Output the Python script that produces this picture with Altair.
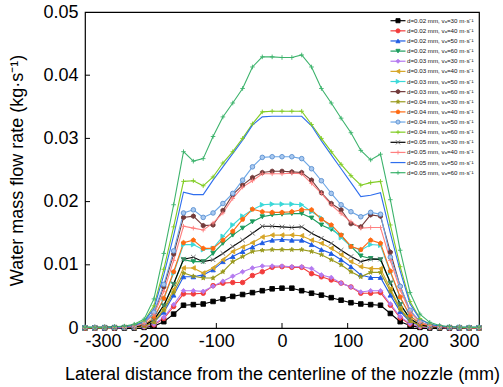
import altair as alt
import pandas as pd

xs = list(range(-300, 301, 15))

series_names = [
    "d=0.02 mm, vₐ=30 m·s⁻¹", "d=0.02 mm, vₐ=40 m·s⁻¹", "d=0.02 mm, vₐ=50 m·s⁻¹", "d=0.02 mm, vₐ=60 m·s⁻¹",
    "d=0.03 mm, vₐ=30 m·s⁻¹", "d=0.03 mm, vₐ=40 m·s⁻¹", "d=0.03 mm, vₐ=50 m·s⁻¹", "d=0.03 mm, vₐ=60 m·s⁻¹",
    "d=0.04 mm, vₐ=30 m·s⁻¹", "d=0.04 mm, vₐ=40 m·s⁻¹", "d=0.04 mm, vₐ=50 m·s⁻¹", "d=0.04 mm, vₐ=60 m·s⁻¹",
    "d=0.05 mm, vₐ=30 m·s⁻¹", "d=0.05 mm, vₐ=40 m·s⁻¹", "d=0.05 mm, vₐ=50 m·s⁻¹", "d=0.05 mm, vₐ=60 m·s⁻¹",
]

s01 = [0.0000, 0.0000, 0.0000, 0.0000, 0.0000, 0.0000, 0.0001, 0.0003, 0.0010, 0.0022,
       0.0036, 0.0037, 0.0038, 0.0042, 0.0046, 0.0050, 0.0053, 0.0056, 0.0059, 0.0062,
       0.0063,
       0.0063, 0.0059, 0.0055, 0.0052, 0.0048, 0.0044, 0.0040, 0.0038, 0.0037, 0.0036,
       0.0023, 0.0010, 0.0004, 0.0001, 0.0000, 0.0000, 0.0000, 0.0000, 0.0000, 0.0000]
s02 = [0.0000, 0.0000, 0.0000, 0.0000, 0.0001, 0.0001, 0.0002, 0.0005, 0.0015, 0.0034,
       0.0054, 0.0054, 0.0055, 0.0067, 0.0071, 0.0072, 0.0072, 0.0083, 0.0089, 0.0096,
       0.0097,
       0.0096, 0.0096, 0.0086, 0.0081, 0.0076, 0.0071, 0.0065, 0.0055, 0.0055, 0.0056,
       0.0036, 0.0016, 0.0006, 0.0002, 0.0001, 0.0001, 0.0000, 0.0000, 0.0000, 0.0000]
s03 = [0.0000, 0.0000, 0.0000, 0.0001, 0.0001, 0.0001, 0.0003, 0.0009, 0.0025, 0.0052,
       0.0081, 0.0081, 0.0084, 0.0092, 0.0105, 0.0113, 0.0121, 0.0128, 0.0135, 0.0139,
       0.0140,
       0.0139, 0.0139, 0.0132, 0.0124, 0.0118, 0.0108, 0.0097, 0.0084, 0.0080, 0.0080,
       0.0052, 0.0026, 0.0010, 0.0004, 0.0002, 0.0001, 0.0001, 0.0000, 0.0000, 0.0000]
s04 = [0.0000, 0.0000, 0.0001, 0.0001, 0.0001, 0.0002, 0.0004, 0.0012, 0.0035, 0.0069,
       0.0108, 0.0105, 0.0105, 0.0118, 0.0134, 0.0147, 0.0158, 0.0168, 0.0176, 0.0179,
       0.0180,
       0.0181, 0.0181, 0.0174, 0.0163, 0.0156, 0.0146, 0.0129, 0.0114, 0.0110, 0.0108,
       0.0071, 0.0037, 0.0014, 0.0005, 0.0002, 0.0001, 0.0001, 0.0001, 0.0000, 0.0000]
s05 = [0.0000, 0.0000, 0.0000, 0.0000, 0.0001, 0.0001, 0.0002, 0.0006, 0.0017, 0.0037,
       0.0059, 0.0059, 0.0058, 0.0066, 0.0074, 0.0082, 0.0089, 0.0095, 0.0098, 0.0098,
       0.0098,
       0.0097, 0.0097, 0.0094, 0.0084, 0.0080, 0.0071, 0.0065, 0.0057, 0.0059, 0.0059,
       0.0038, 0.0018, 0.0007, 0.0002, 0.0001, 0.0001, 0.0000, 0.0000, 0.0000, 0.0000]
s06 = [0.0000, 0.0000, 0.0000, 0.0001, 0.0001, 0.0001, 0.0003, 0.0010, 0.0030, 0.0061,
       0.0095, 0.0095, 0.0087, 0.0095, 0.0108, 0.0121, 0.0128, 0.0135, 0.0144, 0.0147,
       0.0147,
       0.0147, 0.0146, 0.0139, 0.0134, 0.0126, 0.0116, 0.0105, 0.0097, 0.0094, 0.0094,
       0.0062, 0.0031, 0.0012, 0.0004, 0.0002, 0.0001, 0.0001, 0.0000, 0.0000, 0.0000]
s07 = [0.0000, 0.0000, 0.0001, 0.0001, 0.0001, 0.0002, 0.0005, 0.0016, 0.0046, 0.0087,
       0.0132, 0.0132, 0.0124, 0.0126, 0.0145, 0.0163, 0.0177, 0.0187, 0.0195, 0.0196,
       0.0196,
       0.0196, 0.0195, 0.0184, 0.0174, 0.0159, 0.0143, 0.0129, 0.0123, 0.0132, 0.0131,
       0.0088, 0.0048, 0.0019, 0.0007, 0.0003, 0.0001, 0.0001, 0.0001, 0.0000, 0.0000]
s08 = [0.0000, 0.0001, 0.0001, 0.0001, 0.0001, 0.0003, 0.0008, 0.0024, 0.0065, 0.0117,
       0.0175, 0.0177, 0.0162, 0.0163, 0.0186, 0.0211, 0.0226, 0.0238, 0.0246, 0.0248,
       0.0248,
       0.0247, 0.0246, 0.0234, 0.0214, 0.0197, 0.0187, 0.0165, 0.0160, 0.0179, 0.0177,
       0.0120, 0.0066, 0.0027, 0.0010, 0.0004, 0.0002, 0.0001, 0.0001, 0.0000, 0.0000]
s09 = [0.0000, 0.0000, 0.0000, 0.0001, 0.0001, 0.0001, 0.0003, 0.0009, 0.0028, 0.0056,
       0.0087, 0.0082, 0.0079, 0.0079, 0.0089, 0.0105, 0.0113, 0.0121, 0.0123, 0.0124,
       0.0124,
       0.0124, 0.0124, 0.0121, 0.0116, 0.0108, 0.0100, 0.0089, 0.0081, 0.0088, 0.0088,
       0.0058, 0.0029, 0.0011, 0.0004, 0.0002, 0.0001, 0.0001, 0.0000, 0.0000, 0.0000]
s10 = [0.0000, 0.0000, 0.0001, 0.0001, 0.0001, 0.0002, 0.0005, 0.0016, 0.0047, 0.0089,
       0.0135, 0.0139, 0.0126, 0.0126, 0.0139, 0.0153, 0.0172, 0.0188, 0.0184, 0.0183,
       0.0183,
       0.0184, 0.0187, 0.0187, 0.0172, 0.0163, 0.0147, 0.0129, 0.0124, 0.0139, 0.0134,
       0.0090, 0.0049, 0.0019, 0.0007, 0.0003, 0.0001, 0.0001, 0.0001, 0.0000, 0.0000]
s11 = [0.0001, 0.0001, 0.0001, 0.0001, 0.0001, 0.0003, 0.0008, 0.0025, 0.0069, 0.0122,
       0.0182, 0.0187, 0.0175, 0.0182, 0.0197, 0.0213, 0.0234, 0.0255, 0.0270, 0.0271,
       0.0271,
       0.0271, 0.0268, 0.0252, 0.0233, 0.0213, 0.0195, 0.0184, 0.0176, 0.0183, 0.0180,
       0.0112, 0.0066, 0.0028, 0.0010, 0.0004, 0.0002, 0.0001, 0.0001, 0.0001, 0.0001]
s12 = [0.0001, 0.0001, 0.0001, 0.0001, 0.0002, 0.0005, 0.0011, 0.0035, 0.0093, 0.0160,
       0.0232, 0.0233, 0.0225, 0.0239, 0.0261, 0.0279, 0.0300, 0.0323, 0.0342, 0.0343,
       0.0343,
       0.0343, 0.0343, 0.0322, 0.0300, 0.0279, 0.0259, 0.0241, 0.0226, 0.0230, 0.0232,
       0.0163, 0.0097, 0.0042, 0.0015, 0.0006, 0.0003, 0.0002, 0.0001, 0.0001, 0.0001]
s13 = [0.0000, 0.0000, 0.0001, 0.0001, 0.0001, 0.0002, 0.0004, 0.0013, 0.0036, 0.0070,
       0.0109, 0.0112, 0.0105, 0.0108, 0.0118, 0.0129, 0.0139, 0.0150, 0.0161, 0.0161,
       0.0160,
       0.0159, 0.0160, 0.0150, 0.0142, 0.0134, 0.0123, 0.0113, 0.0105, 0.0109, 0.0109,
       0.0072, 0.0038, 0.0015, 0.0005, 0.0002, 0.0001, 0.0001, 0.0000, 0.0000, 0.0000]
s14 = [0.0000, 0.0001, 0.0001, 0.0001, 0.0001, 0.0003, 0.0007, 0.0021, 0.0058, 0.0107,
       0.0161, 0.0158, 0.0155, 0.0166, 0.0182, 0.0205, 0.0223, 0.0233, 0.0244, 0.0244,
       0.0244,
       0.0245, 0.0244, 0.0229, 0.0213, 0.0195, 0.0181, 0.0168, 0.0158, 0.0159, 0.0159,
       0.0107, 0.0060, 0.0025, 0.0009, 0.0004, 0.0002, 0.0001, 0.0001, 0.0000, 0.0000]
s15 = [0.0001, 0.0001, 0.0001, 0.0001, 0.0002, 0.0004, 0.0010, 0.0031, 0.0084, 0.0146,
       0.0215, 0.0211, 0.0211, 0.0234, 0.0255, 0.0276, 0.0297, 0.0321, 0.0334, 0.0335,
       0.0335,
       0.0335, 0.0335, 0.0320, 0.0296, 0.0274, 0.0252, 0.0230, 0.0208, 0.0210, 0.0214,
       0.0150, 0.0090, 0.0038, 0.0014, 0.0006, 0.0003, 0.0002, 0.0001, 0.0001, 0.0001]
s16 = [0.0001, 0.0001, 0.0001, 0.0002, 0.0003, 0.0006, 0.0014, 0.0046, 0.0118, 0.0195,
       0.0279, 0.0264, 0.0268, 0.0303, 0.0334, 0.0356, 0.0379, 0.0413, 0.0429, 0.0429,
       0.0428,
       0.0428, 0.0432, 0.0413, 0.0379, 0.0356, 0.0332, 0.0309, 0.0281, 0.0266, 0.0275,
       0.0203, 0.0123, 0.0056, 0.0022, 0.0009, 0.0004, 0.0002, 0.0001, 0.0001, 0.0001]

all_values = [s01, s02, s03, s04, s05, s06, s07, s08, s09, s10, s11, s12, s13, s14, s15, s16]

x_ticks = [-300, -200, -100, 0, 100, 200, 300]
y_ticks = [0, 0.01, 0.02, 0.03, 0.04, 0.05]
inner_x_ticks = [-200, -100, 0, 100, 200]
inner_y_ticks = [0.01, 0.02, 0.03, 0.04]

# styles
line_colors = ["#000000", "#f23c3c", "#1f5ce4", "#1c9c5e", "#b47af0", "#d6a526", "#3ad8d8", "#733b3b",
               "#9a9a1e", "#ff6a12", "#6ca6e6", "#80cc22", "#000000", "#ff8080", "#2f6eee", "#3cb36c"]
fill_colors = ["#000000", "#f23c3c", "#1f5ce4", "#1c9c5e", "#b47af0", "#d6a526", "#3ad8d8", "#733b3b",
               "#9a9a1e", "#ff6a12", "#a9c9f0", "#80cc22", "#000000", "#ff8080", "#2f6eee", "#3cb36c"]
stroke_colors = ["#000000", "#f23c3c", "#1f5ce4", "#1c9c5e", "#b47af0", "#d6a526", "#3ad8d8", "#733b3b",
                 "#9a9a1e", "#ff6a12", "#5a90d0", "#80cc22", "#666666", "#ff8080", "#2f6eee", "#3cb36c"]
hexagon = "M0,-1L0.866,-0.5L0.866,0.5L0,1L-0.866,0.5L-0.866,-0.5Z"
pentagon = "M0,-1L0.951,-0.309L0.588,0.809L-0.588,0.809L-0.951,-0.309Z"
star = ("M0,-1L0.2245,-0.309L0.951,-0.309L0.363,0.118L0.588,0.809L0,0.382"
        "L-0.588,0.809L-0.363,0.118L-0.951,-0.309L-0.2245,-0.309Z")
plus = "M-1,0H1M0,-1V1"
xmark = "M-1,-1L1,1M-1,1L1,-1"
nothing = "M0,0"
shapes = ["square", "circle", "triangle-up", "triangle-down", "diamond", "triangle-left", "triangle-right",
          hexagon, star, pentagon, "circle", plus, xmark, plus, nothing, plus]

rows = []
for name, vals in zip(series_names, all_values):
    assert len(vals) == len(xs), name
    for xv, yv in zip(xs, vals):
        rows.append({"series": name, "x": xv, "y": yv})
df = pd.DataFrame(rows)

FONT = "Liberation Sans"
xscale = alt.Scale(domain=[-300, 300], nice=False, zero=False)
yscale = alt.Scale(domain=[0, 0.05], nice=False, zero=False)
color_scale = alt.Scale(domain=series_names, range=line_colors)
fill_scale = alt.Scale(domain=series_names, range=fill_colors)
stroke_scale = alt.Scale(domain=series_names, range=stroke_colors)
shape_scale = alt.Scale(domain=series_names, range=shapes)

base = alt.Chart(df)
lines = base.mark_line(strokeWidth=1.1).encode(
    x=alt.X("x:Q", scale=xscale, axis=alt.Axis(
        values=x_ticks, title="Lateral distance from the centerline of the nozzle (mm)",
        labelExpr="'' + datum.value", labelPadding=4, titleX=197, titleY=46,
        titleAlign="center", titleBaseline="middle")),
    y=alt.Y("y:Q", scale=yscale, axis=alt.Axis(
        values=y_ticks, format=".2~f", title="Water mass flow rate (kg·s⁻¹)",
        labelPadding=7, titleX=-68, titleY=158, titleAngle=270,
        titleAlign="center", titleBaseline="middle")),
    color=alt.Color("series:N", scale=color_scale, legend=None),
    detail="series:N",
)
points = base.mark_point(filled=False, strokeWidth=0.9, opacity=1, fillOpacity=1).encode(
    x=alt.X("x:Q", scale=xscale),
    y=alt.Y("y:Q", scale=yscale),
    fill=alt.Fill("series:N", scale=fill_scale, legend=None),
    stroke=alt.Stroke("series:N", scale=stroke_scale, legend=None),
    shape=alt.Shape("series:N", scale=shape_scale, legend=None),
    size=alt.value(21),
)

xt = alt.Chart(pd.DataFrame({"t": inner_x_ticks})).mark_rule(color="black", strokeWidth=1).encode(
    x=alt.X("t:Q", scale=xscale), y=alt.value(311), y2=alt.value(316))
yt = alt.Chart(pd.DataFrame({"t": inner_y_ticks})).mark_rule(color="black", strokeWidth=1).encode(
    y=alt.Y("t:Q", scale=yscale), x=alt.value(0), x2=alt.value(5))

main = alt.layer(lines, points, xt, yt)

leg_df = pd.DataFrame({"series": series_names})
leg_y = alt.Y("series:N", sort=series_names,
              scale=alt.Scale(type="point", domain=series_names, range=[8.7, 160.7], padding=0),
              axis=None)
leg_base = alt.Chart(leg_df)
leg_lines = leg_base.mark_rule(strokeWidth=1.2).encode(
    y=leg_y, x=alt.value(305.5), x2=alt.value(320.5),
    color=alt.Color("series:N", scale=color_scale, legend=None))
leg_points = leg_base.mark_point(filled=False, strokeWidth=0.9, opacity=1, fillOpacity=1).encode(
    y=leg_y, x=alt.value(313),
    fill=alt.Fill("series:N", scale=fill_scale, legend=None),
    stroke=alt.Stroke("series:N", scale=stroke_scale, legend=None),
    shape=alt.Shape("series:N", scale=shape_scale, legend=None),
    size=alt.value(17))
leg_text = leg_base.mark_text(align="left", baseline="middle", fontSize=6.2, font=FONT, color="#111111").encode(
    y=leg_y, x=alt.value(322), text="series:N")
legend = alt.layer(leg_lines, leg_points, leg_text)

chart = alt.layer(main, legend).resolve_scale(y="independent").properties(
    width=394, height=316,
    background="white",
    autosize=alt.AutoSizeParams(type="none"),
    padding={"left": 85, "top": 12, "right": 24, "bottom": 59},
).configure_view(stroke="black", strokeWidth=1.2).configure_axis(
    grid=False, ticks=False, domain=False,
    labelFont=FONT, titleFont=FONT, labelFontSize=18, titleFontSize=18,
    titleFontWeight="normal", labelColor="black", titleColor="black",
)

chart.save("out.html", embed_options={"renderer": "svg", "actions": False})
